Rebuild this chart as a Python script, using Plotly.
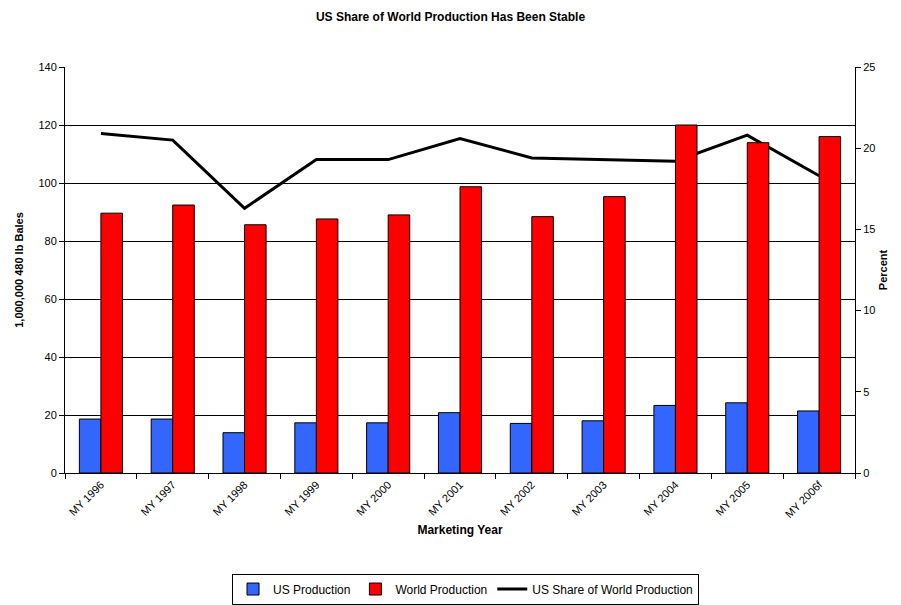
import plotly.graph_objects as go

years = ["MY 1996", "MY 1997", "MY 1998", "MY 1999", "MY 2000", "MY 2001",
         "MY 2002", "MY 2003", "MY 2004", "MY 2005", "MY 2006f"]
us_production = [18.6, 18.6, 13.9, 17.3, 17.3, 20.8, 17.1, 18.0, 23.3, 24.2, 21.4]
world_production = [89.6, 92.4, 85.6, 87.6, 89.0, 98.7, 88.4, 95.3, 120.0, 113.9, 116.0]
us_share = [20.9, 20.5, 16.3, 19.3, 19.3, 20.6, 19.4, 19.3, 19.2, 20.8, 18.3]

FONT = "Liberation Sans, Arial, sans-serif"

fig = go.Figure()
# line on primary axis (drawn below), bars on overlaying axis (drawn above)
fig.add_trace(go.Scatter(x=years, y=us_share, name="US Share of World Production",
                         mode="lines", line=dict(color="black", width=3),
                         yaxis="y", legendrank=3))
fig.add_trace(go.Bar(x=years, y=us_production, name="US Production",
                     marker=dict(color="#3366FF", line=dict(color="black", width=1)),
                     yaxis="y2", legendrank=1))
fig.add_trace(go.Bar(x=years, y=world_production, name="World Production",
                     marker=dict(color="#FF0000", line=dict(color="black", width=1)),
                     yaxis="y2", legendrank=2))

fig.update_layout(
    width=901, height=605,
    margin=dict(l=65, r=46, t=67, b=132, autoexpand=False),
    paper_bgcolor="white", plot_bgcolor="white",
    font=dict(family=FONT, size=11, color="black"),
    title=dict(text="<b>US Share of World Production Has Been Stable</b>",
               x=0.5, xanchor="center", y=0.98, yanchor="top",
               font=dict(size=12, family=FONT)),
    barmode="group", bargap=0.4, bargroupgap=0,
    showlegend=True,
    legend=dict(orientation="h", x=0.507, xanchor="center",
                yref="container", y=0.052, yanchor="top",
                bordercolor="black", borderwidth=1, font=dict(size=12),
                traceorder="normal", itemwidth=30, tracegroupgap=0),
    xaxis=dict(type="category", tickangle=-45, showline=True, linecolor="black",
               linewidth=1, ticks="outside", tickson="boundaries", ticklen=5,
               tickcolor="black", showgrid=False,
               title=dict(text="<b>Marketing Year</b>", font=dict(size=12), standoff=6),
               tickfont=dict(size=11)),
    yaxis=dict(range=[0, 25], dtick=5, side="right", showline=True, linecolor="black",
               linewidth=1, ticks="outside", ticklen=5, tickcolor="black",
               showgrid=False, zeroline=False,
               title=dict(text="<b>Percent</b>", font=dict(size=11), standoff=4)),
    yaxis2=dict(range=[0, 140], dtick=20, side="left", overlaying="y",
                showline=True, linecolor="black", linewidth=1, ticks="outside",
                ticklen=5, tickcolor="black", showgrid=True, gridcolor="black",
                gridwidth=1, zeroline=False,
                title=dict(text="<b>1,000,000 480 lb Bales</b>", font=dict(size=11),
                           standoff=12)),
)

fig.write_html("out.html", config={"displayModeBar": False},
               post_script="document.body.style.margin='0';document.body.style.overflow='hidden';")
